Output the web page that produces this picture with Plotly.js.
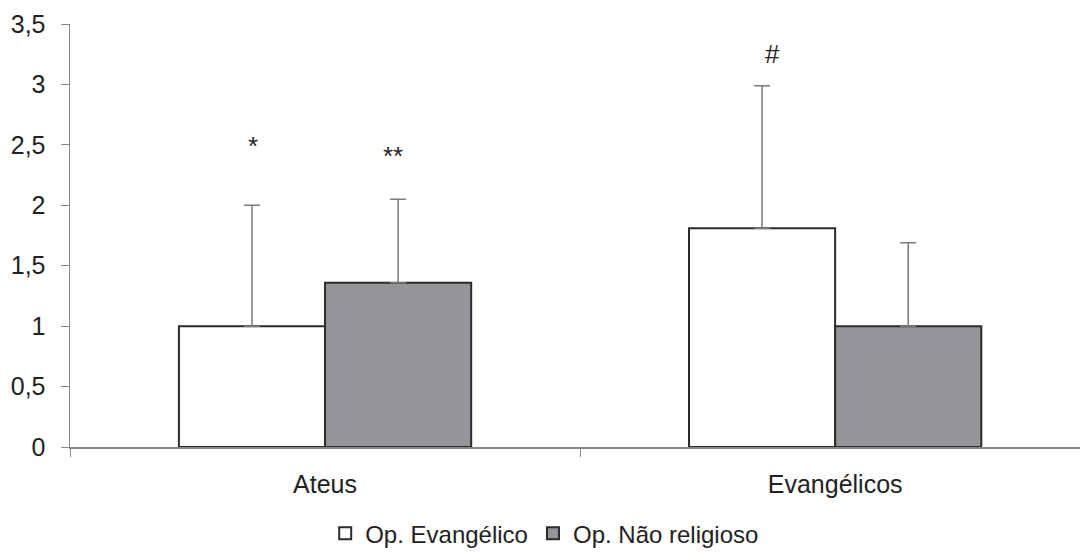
<!DOCTYPE html>
<html>
<head>
<meta charset="utf-8">
<script src="https://cdn.plot.ly/plotly-3.0.1.min.js"></script>
<style>html,body{margin:0;padding:0;background:#fff;}#chart{width:1080px;height:553px;}</style>
</head>
<body>
<div id="chart"></div>
<script>
var categories = ["Ateus", "Evangélicos"];
var seriesNames = ["Op. Evangélico", "Op. Não religioso"];
var evangelicoValues = [1.0, 1.81];
var evangelicoErrors = [1.0, 1.18];
var naoReligiosoValues = [1.36, 1.0];
var naoReligiosoErrors = [0.69, 0.69];
var markLabels = [["*", "#"], ["**", ""]];
var yTickValues = [0, 0.5, 1, 1.5, 2, 2.5, 3, 3.5];

var font = "Liberation Sans, Arial, sans-serif";
var errStyle = {type: "data", symmetric: false, arrayminus: [0, 0], color: "#7a7a7a", thickness: 1.5, width: 8};

var traces = [
  {type: "bar", name: seriesNames[0], x: categories, y: evangelicoValues,
   marker: {color: "#ffffff", line: {color: "#2b2b2b", width: 2}},
   error_y: Object.assign({array: evangelicoErrors}, errStyle)},
  {type: "bar", name: seriesNames[1], x: categories, y: naoReligiosoValues,
   marker: {color: "#939598", line: {color: "#2b2b2b", width: 2}},
   error_y: Object.assign({array: naoReligiosoErrors}, errStyle)}
];

var annotations = [];
var allVals = [evangelicoValues, naoReligiosoValues];
var allErr = [evangelicoErrors, naoReligiosoErrors];
var offsets = [-0.1435, 0.1435];
var gapAbove = [[0.49, 0.26], [0.36, 0]];
var xShifts = [[1, 11], [-5, 0]];
for (var s = 0; s < 2; s++) {
  for (var c = 0; c < categories.length; c++) {
    if (!markLabels[s][c]) continue;
    annotations.push({
      x: c + offsets[s], y: allVals[s][c] + allErr[s][c] + gapAbove[s][c],
      xref: "x", yref: "y", text: markLabels[s][c], showarrow: false,
      xshift: xShifts[s][c],
      font: {family: font, size: 26, color: "#222"}, yanchor: "middle"
    });
  }
}

var layout = {
  width: 1080, height: 553,
  margin: {l: 70, r: 0, t: 24, b: 106, autoexpand: false},
  paper_bgcolor: "#ffffff", plot_bgcolor: "#ffffff",
  separators: ",.",
  barmode: "group", bargap: 0.427, bargroupgap: 0,
  showlegend: true,
  legend: {orientation: "h", x: 0.47, xanchor: "center", y: -0.205, yanchor: "middle",
           font: {family: font, size: 24, color: "#222"}, itemwidth: 30, tracegroupgap: 0},
  xaxis: {
    type: "category", range: [-0.5, 1.48],
    showline: true, linecolor: "#888", linewidth: 1.5,
    ticks: "outside", tickson: "boundaries", ticklen: 8, tickcolor: "#888",
    showgrid: false, zeroline: false, ticklabelstandoff: 14,
    tickfont: {family: font, size: 25, color: "#222"}
  },
  yaxis: {
    range: [0, 3.5], tickvals: yTickValues, tickformat: ".1~f",
    showline: true, linecolor: "#888", linewidth: 1.5,
    ticks: "outside", ticklen: 8, tickcolor: "#888",
    showgrid: false, zeroline: false, ticklabelstandoff: 10,
    tickfont: {family: font, size: 25, color: "#222"}
  },
  annotations: annotations
};

Plotly.newPlot("chart", traces, layout, {displayModeBar: false, staticPlot: true});
</script>
</body>
</html>
